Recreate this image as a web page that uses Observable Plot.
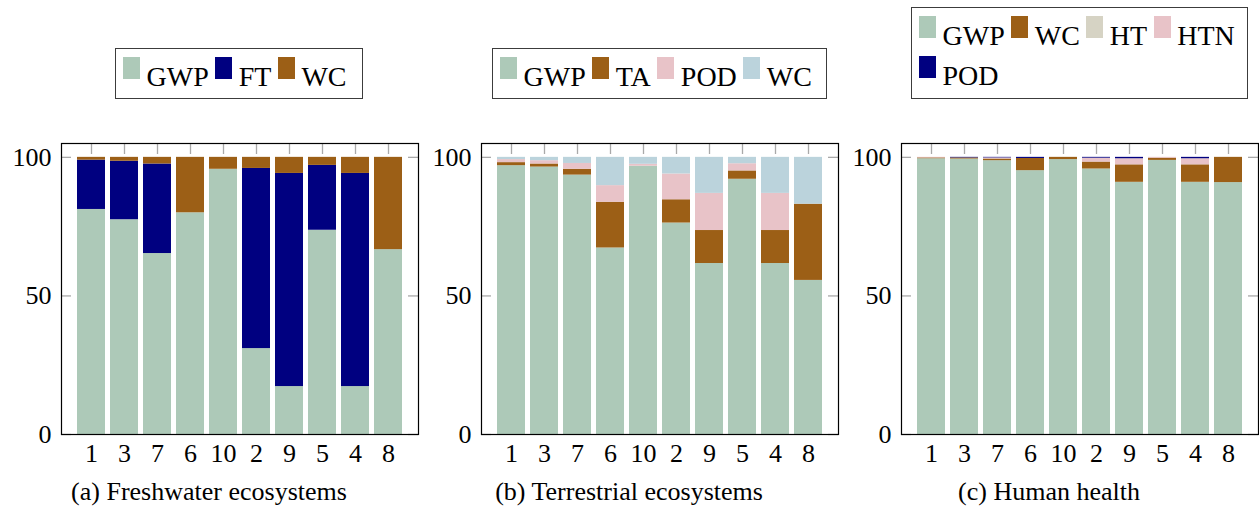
<!DOCTYPE html>
<html>
<head>
<meta charset="utf-8">
<script src="https://cdn.jsdelivr.net/npm/d3@7"></script>
<script src="https://cdn.jsdelivr.net/npm/@observablehq/plot@0.6"></script>
<style>
  body { margin: 0; width: 1259px; height: 512px; position: relative; background: #fff;
         font-family: "Liberation Serif", "DejaVu Serif", serif; overflow: hidden; color: #000; }
  .chart { position: absolute; top: 110px; }
  .legend { position: absolute; box-sizing: border-box; border: 1.3px solid #3c3c3c; background: #fff;
            display: flex; flex-wrap: wrap; align-content: flex-start; padding: 8px 0 0 7px; }
  .item { display: flex; align-items: flex-start; height: 40px; margin-right: 6.5px; }
  .sw { width: 17px; height: 22px; margin-right: 6.5px; }
  .lab { font-size: 28px; line-height: 28px; margin-top: 5.5px; }
  .br { flex-basis: 100%; height: 0; }
  .cap { position: absolute; top: 479px; font-size: 26px; line-height: 26px; white-space: nowrap;
         transform: translateX(-50%); }
</style>
</head>
<body>
<script>
// Bar order on the x axis (same for all three panels)
const categories = ["1", "3", "7", "6", "10", "2", "9", "5", "4", "8"];
const yTicks = [0, 50, 100];

// (a) Freshwater ecosystems — shares in %
const freshGWP = [81.2, 77.5, 65.3, 80.0, 95.7, 31.0, 17.3, 73.7, 17.3, 66.7];
const freshFT  = [17.8, 21.1, 32.3,  0.0,  0.0, 65.0, 76.9, 23.4, 76.9,  0.0];
const freshWC  = [ 1.0,  1.4,  2.4, 20.0,  4.3,  4.0,  5.8,  2.9,  5.8, 33.3];

// (b) Terrestrial ecosystems — shares in %
const terrGWP = [97.0, 96.5, 93.6, 67.3, 96.8, 76.3, 61.7, 92.1, 61.7, 55.6];
const terrTA  = [ 1.1,  1.1,  2.1, 16.5,  0.0,  8.4, 11.9,  3.0, 11.9, 27.5];
const terrPOD = [ 1.1,  1.2,  2.1,  6.0,  0.7,  9.3, 13.4,  2.6, 13.4,  0.0];
const terrWC  = [ 0.8,  1.2,  2.2, 10.2,  2.5,  6.0, 13.0,  2.3, 13.0, 16.9];

// (c) Human health — shares in %
const healthGWP = [99.5, 99.4, 98.8, 95.2, 99.2, 95.8, 91.0, 98.9, 91.0, 90.9];
const healthWC  = [ 0.3,  0.4,  0.6,  4.4,  0.8,  2.5,  6.3,  0.8,  6.3,  9.1];
const healthHT  = [ 0.0,  0.0,  0.0,  0.0,  0.0,  0.0,  0.0,  0.0,  0.0,  0.0];
const healthHTN = [ 0.2,  0.0,  0.4,  0.0,  0.0,  1.4,  2.2,  0.3,  2.2,  0.0];
const healthPOD = [ 0.0,  0.2,  0.2,  0.4,  0.0,  0.3,  0.5,  0.0,  0.5,  0.0];

const C = { sage: "#adc9b8", navy: "#000080", brown: "#9c5f16", pink: "#e8c3c8", blue: "#bbd3dc", beige: "#d6d3c4" };

const panels = [
  {
    left: 0, width: 420, capX: 209, caption: "(a) Freshwater ecosystems",
    legend: { left: 115, top: 48, width: 248, height: 51, breakAfter: null },
    series: [
      { name: "GWP", values: freshGWP, color: C.sage },
      { name: "FT",  values: freshFT,  color: C.navy },
      { name: "WC",  values: freshWC,  color: C.brown }
    ]
  },
  {
    left: 420, width: 420, capX: 629, caption: "(b) Terrestrial ecosystems",
    legend: { left: 492, top: 48, width: 335, height: 51, breakAfter: null },
    series: [
      { name: "GWP", values: terrGWP, color: C.sage },
      { name: "TA",  values: terrTA,  color: C.brown },
      { name: "POD", values: terrPOD, color: C.pink },
      { name: "WC",  values: terrWC,  color: C.blue }
    ]
  },
  {
    left: 840, width: 419, capX: 1049, caption: "(c) Human health",
    legend: { left: 911, top: 7, width: 337, height: 92, breakAfter: 4 },
    series: [
      { name: "GWP", values: healthGWP, color: C.sage },
      { name: "WC",  values: healthWC,  color: C.brown },
      { name: "HT",  values: healthHT,  color: C.beige },
      { name: "HTN", values: healthHTN, color: C.pink },
      { name: "POD", values: healthPOD, color: C.navy }
    ]
  }
];

const marginLeft = 61, marginTop = 33, marginBottom = 41, svgH = 365;
const gray = "#a9a9a9";

for (const p of panels) {
  const marginRight = p.width - marginLeft - 357;
  const frameW = p.width - marginLeft - marginRight;
  const frameH = svgH - marginTop - marginBottom;

  // long table: one row per (bar, series) segment, stacked in series order
  const table = [];
  for (const s of p.series) {
    categories.forEach((c, i) => {
      if (s.values[i] > 0) table.push({ cat: c, key: s.name, value: s.values[i] });
    });
  }

  const chart = Plot.plot({
    width: p.width, height: svgH,
    marginLeft, marginRight, marginTop, marginBottom,
    style: { fontFamily: "'Liberation Serif', serif", fontSize: "26px", color: "#000", background: "transparent", overflow: "visible" },
    x: { type: "band", domain: categories, paddingInner: 0.152, paddingOuter: 0.485 },
    y: { domain: [0, 105] },
    color: { domain: p.series.map(s => s.name), range: p.series.map(s => s.color) },
    marks: [
      Plot.barY(table, { x: "cat", y: "value", fill: "key" }),
      // inward tick marks on all four sides of the box
      Plot.tickY(yTicks, { y: d => d, stroke: gray, strokeWidth: 1.3, insetRight: frameW - 10 }),
      Plot.tickY(yTicks, { y: d => d, stroke: gray, strokeWidth: 1.3, insetLeft: frameW - 10 }),
      Plot.tickX(categories, { x: d => d, stroke: gray, strokeWidth: 1.3, insetBottom: frameH - 11 }),
      Plot.axisY({ ticks: yTicks, tickSize: 0, tickPadding: 10, fontSize: 26, label: null }),
      Plot.axisX({ tickSize: 0, tickPadding: 9.5, fontSize: 26, label: null }),
      Plot.frame({ stroke: "#000", strokeWidth: 1.2 })
    ]
  });
  chart.classList.add("chart");
  chart.style.left = p.left + "px";
  document.body.appendChild(chart);

  // legend box
  const lg = document.createElement("div");
  lg.className = "legend";
  Object.assign(lg.style, {
    left: p.legend.left + "px", top: p.legend.top + "px",
    width: p.legend.width + "px", height: p.legend.height + "px"
  });
  p.series.forEach((s, i) => {
    if (p.legend.breakAfter !== null && i === p.legend.breakAfter) {
      const br = document.createElement("div");
      br.className = "br";
      lg.appendChild(br);
    }
    const it = document.createElement("div");
    it.className = "item";
    const sw = document.createElement("div");
    sw.className = "sw";
    sw.style.background = s.color;
    const lab = document.createElement("div");
    lab.className = "lab";
    lab.textContent = s.name;
    it.appendChild(sw);
    it.appendChild(lab);
    lg.appendChild(it);
  });
  document.body.appendChild(lg);

  // caption under the panel
  const cap = document.createElement("div");
  cap.className = "cap";
  cap.style.left = p.capX + "px";
  cap.textContent = p.caption;
  document.body.appendChild(cap);
}
</script>
</body>
</html>
